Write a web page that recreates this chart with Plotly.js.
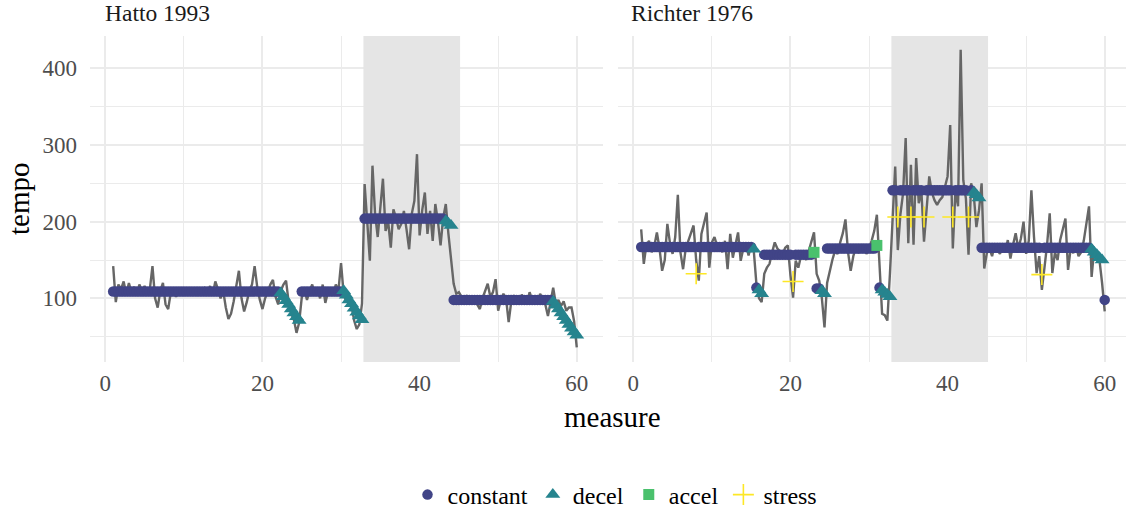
<!DOCTYPE html>
<html><head><meta charset="utf-8">
<script src="https://cdn.plot.ly/plotly-3.0.1.min.js"></script>
<style>html,body{margin:0;padding:0;background:#fff}#chart{width:1126px;height:509px}</style>
</head><body><div id="chart"></div>
<script>
// ---------------- DATA ----------------
const beatsPerMeasure = 3;      // 3/4 time: one observation per beat
const firstMeasure = 1;
const panelTitles = ["Hatto 1993", "Richter 1976"];
const stateNames = ["constant", "decel", "accel", "stress"];
const shadedMeasures = [32.85, 45.15];
const xTickVals = [0, 20, 40, 60];
const yTickVals = [100, 200, 300, 400];

// observed tempo, one value per beat (measure 1 beat 1 ... measure 60 beat 1)
const hattoTempo = [
  142, 95, 118,  112, 122, 105,  120, 108, 115,  104, 118, 110,  116, 108, 112,
  142, 100, 88,  110, 120, 92,   86, 108, 114,   102, 112, 106,  110, 104, 112,
  108, 112, 104, 110, 106, 113,  108, 116, 105,  122, 112, 100,  110, 88, 73,
  80, 96, 118,   136, 100, 83,   95, 110, 118,   142, 115, 98,   86, 100, 108,
  118, 124, 102, 92, 110, 118,   123, 95, 80,    72, 55, 68,     101, 112, 98,
  110, 118, 105, 112, 100, 118,  94, 108, 112,   104, 118, 110,  146, 106, 95,
  106, 90, 71,   60, 66, 93,     249, 200, 149,  273, 210, 180,  215, 256, 188,
  200, 166, 216, 205, 190, 197,  214, 190, 164,  210, 227, 288,  182, 215, 238,
  184, 214, 175, 223, 200, 169,  205, 223, 184,  150, 119, 106,  108, 102, 98,
  104, 96, 100,  97, 92, 86,     100, 110, 119,  102, 108, 125,  84, 98, 106,
  100, 69, 96,   104, 98, 92,    105, 100, 94,   108, 98, 102,   94, 106, 100,
  92, 77, 95,    114, 93, 98,    90, 96, 84,     88, 88, 70,     36
];
const richterTempo = [
  190, 145, 170, 175, 160, 168,  186, 165, 136,  150, 197, 172,  158, 180, 235,
  160, 138, 165, 175, 186, 195,  150, 123, 184,  200, 212, 140,  173, 180, 168,
  172, 160, 175, 138, 184, 153,  170, 186, 149,  165, 172, 156,  170, 162, 119,
  100, 95, 132,  140, 145, 160,  173, 165, 162,  158, 166, 169,  130, 101, 149,
  140, 155, 158, 150, 162, 172,  186, 132, 123,  100, 62, 120,   136, 150, 162,
  158, 173, 185, 203, 160, 136,  155, 167, 160,  162, 170, 158,  165, 175, 188,
  209, 136, 80,  78, 71, 133,    200, 272, 163,  210, 237, 309,  172, 274, 170,
  283, 224, 240, 174, 215, 259,  238, 228, 222,  228, 232, 245,  259, 326, 165,
  241, 220, 424, 254, 230, 157,  250, 235, 193,  215, 250, 139,  159, 165, 155,
  170, 163, 158, 168, 160, 176,  152, 170, 185,  165, 178, 200,  158, 175, 241,
  180, 133, 155, 111, 140, 170,  211, 133, 160,  150, 176, 190,  204, 137, 165,
  159, 170, 155, 160, 175, 200,  220, 128, 165,  154, 150, 120,  83
];

// fitted state runs: state, number of beats, fitted tempo (one level, or one value per beat)
const hattoRunState = ["constant", "decel", "constant", "decel", "constant", "decel", "constant", "decel"];
const hattoRunBeats = [64, 8, 16, 8, 31, 3, 38, 10];
const hattoRunFit = [
  [109],
  [107, 102, 97, 92, 86, 81, 76, 71],
  [109],
  [110, 104, 98, 93, 87, 82, 77, 72],
  [204],
  [201, 198, 195],
  [98],
  [96, 91, 86, 81, 76, 71, 66, 61, 56, 52]
];

const richterRunState = [
  "constant", "stress", "constant", "decel", "constant", "decel",
  "constant", "stress", "constant", "accel", "constant", "decel",
  "constant", "accel", "constant", "decel",
  "constant", "stress", "constant", "stress", "constant", "stress",
  "constant", "stress", "constant", "stress", "constant", "decel",
  "constant", "stress", "constant", "decel", "constant"
];
const richterRunBeats = [
  21, 1, 21, 1, 1, 2,
  11, 1, 7, 1, 2, 2,
  19, 1, 1, 4,
  2, 1, 4, 1, 4, 1,
  10, 1, 5, 1, 1, 3,
  23, 1, 18, 5, 1
];
const richterRunFit = [
  [167], [132], [167], [164], [114], [111, 106],
  [157], [122], [157], [160], [113], [110, 106],
  [165], [169], [114], [111, 108, 105, 102],
  [241], [206], [241], [206], [241], [206],
  [241], [206], [241], [206], [241], [238, 235, 231],
  [166], [131], [166], [164, 160, 157, 153, 150], [98]
];

// ---------------- STYLE ----------------
const FONT = "Liberation Serif, Times New Roman, serif";
const stateStyle = {
  constant: {symbol: "circle", size: 10.5, color: "#414487"},
  decel: {symbol: "triangle-up", size: 13, color: "#26848E"},
  accel: {symbol: "square", size: 11, color: "#4AC16D"},
  stress: {symbol: "cross-thin", size: 15, color: "#FDE725", line: {color: "#FDE725", width: 1.6}}
};

function beatX(i) { return firstMeasure + i / beatsPerMeasure; }

function expandRuns(states, beats, fits) {
  const out = {};
  stateNames.forEach(s => out[s] = {x: [], y: []});
  let i = 0;
  states.forEach((s, k) => {
    for (let j = 0; j < beats[k]; j++, i++) {
      out[s].x.push(beatX(i));
      out[s].y.push(fits[k].length === 1 ? fits[k][0] : fits[k][j]);
    }
  });
  return out;
}

const panelData = [
  {tempo: hattoTempo, fit: expandRuns(hattoRunState, hattoRunBeats, hattoRunFit), xa: "x", ya: "y", legend: false},
  {tempo: richterTempo, fit: expandRuns(richterRunState, richterRunBeats, richterRunFit), xa: "x2", ya: "y2", legend: true}
];

const traces = [];
panelData.forEach(p => {
  traces.push({
    type: "scatter", mode: "lines",
    x: p.tempo.map((_, i) => beatX(i)), y: p.tempo,
    xaxis: p.xa, yaxis: p.ya,
    line: {color: "#666666", width: 2.4},
    showlegend: false, hoverinfo: "skip"
  });
  stateNames.forEach(s => {
    const st = stateStyle[s];
    const marker = {symbol: st.symbol, size: st.size, color: st.color};
    if (st.line) marker.line = st.line; else marker.line = {width: 0};
    traces.push({
      type: "scatter", mode: "markers", name: s,
      x: p.fit[s].x, y: p.fit[s].y,
      xaxis: p.xa, yaxis: p.ya,
      marker: marker, legendgroup: s,
      showlegend: p.legend
    });
  });
});

const W = 1126, H = 509;
const panelTop = 36, panelBottom = 362;
const yDomain = [(H - panelBottom) / H, (H - panelTop) / H];
const yRange = [17, 442.1];

function xAxis(domain, range, anchor) {
  return {
    domain: domain, range: range, anchor: anchor,
    tickvals: xTickVals, ticks: "", showline: false, zeroline: false,
    showgrid: true, gridcolor: "#EBEBEB", gridwidth: 2,
    minor: {tickvals: [10, 30, 50], showgrid: true, gridcolor: "#EBEBEB", gridwidth: 1, ticks: ""},
    tickfont: {family: FONT, size: 23, color: "#4D4D4D"},
    ticklabelstandoff: 5, fixedrange: true
  };
}
function yAxis(anchor, labels) {
  return {
    domain: yDomain, range: yRange, anchor: anchor,
    tickvals: yTickVals, ticks: "", showline: false, zeroline: false,
    showgrid: true, gridcolor: "#EBEBEB", gridwidth: 2,
    minor: {tickvals: [50, 150, 250, 350], showgrid: true, gridcolor: "#EBEBEB", gridwidth: 1, ticks: ""},
    showticklabels: labels,
    tickfont: {family: FONT, size: 23, color: "#4D4D4D"},
    ticklabelstandoff: 12, fixedrange: true
  };
}

const layout = {
  width: W, height: H,
  margin: {l: 0, r: 0, t: 0, b: 0, pad: 0, autoexpand: false},
  paper_bgcolor: "#ffffff", plot_bgcolor: "#ffffff",
  font: {family: FONT},
  xaxis: xAxis([90 / W, 603 / W], [-1.95, 63.34], "y"),
  xaxis2: xAxis([618 / W, 1], [-1.95, 62.71], "y2"),
  yaxis: yAxis("x", true),
  yaxis2: yAxis("x2", false),
  shapes: [["x", "y"], ["x2", "y2"]].map(r => ({
    type: "rect", xref: r[0], yref: r[1],
    x0: shadedMeasures[0], x1: shadedMeasures[1], y0: yRange[0], y1: yRange[1],
    fillcolor: "#E5E5E5", line: {width: 0}, layer: "between"
  })),
  annotations: [
    {text: panelTitles[0], xref: "paper", yref: "paper", x: 103 / W, y: (H - 13) / H,
     xanchor: "left", yanchor: "middle", showarrow: false, font: {family: FONT, size: 23.5, color: "#1A1A1A"}},
    {text: panelTitles[1], xref: "paper", yref: "paper", x: 629 / W, y: (H - 13) / H,
     xanchor: "left", yanchor: "middle", showarrow: false, font: {family: FONT, size: 23.5, color: "#1A1A1A"}},
    {text: "tempo", xref: "paper", yref: "paper", x: 19 / W, y: (H - 199) / H, textangle: -90,
     xanchor: "center", yanchor: "middle", showarrow: false, font: {family: FONT, size: 29, color: "#000000"}},
    {text: "measure", xref: "paper", yref: "paper", x: 612 / W, y: (H - 417) / H,
     xanchor: "center", yanchor: "middle", showarrow: false, font: {family: FONT, size: 29, color: "#000000"}}
  ],
  legend: {
    orientation: "h", x: 615 / W, xanchor: "center", y: (H - 495) / H, yanchor: "middle",
    font: {family: FONT, size: 24, color: "#000000"}, bgcolor: "rgba(0,0,0,0)",
    traceorder: "normal", itemwidth: 30
  },
  hovermode: false
};

Plotly.newPlot("chart", traces, layout, {displayModeBar: false, staticPlot: true});
</script>
</body></html>
